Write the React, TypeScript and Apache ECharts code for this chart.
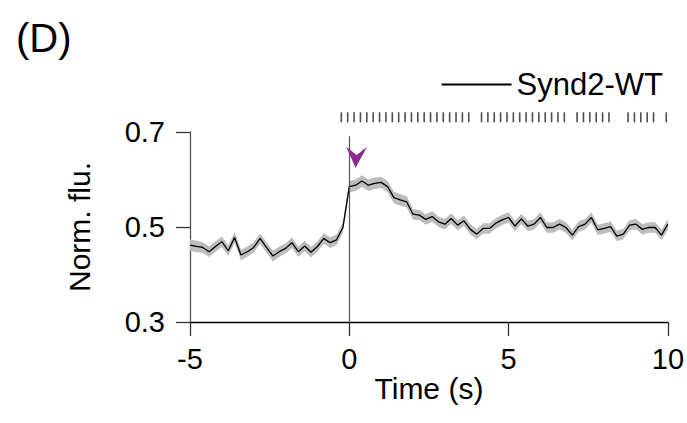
import { useEffect, useRef } from "react";
import * as echarts from "echarts";

// Sampling of the trace (s)
const T_START = -5;
const T_STEP = 0.2;

// Mean normalised fluorescence, one value per frame from -5 s to 10 s
const meanFlu = [
  0.462, 0.459, 0.457, 0.448, 0.459, 0.469, 0.450, 0.478, 0.441, 0.448,
  0.457, 0.476, 0.457, 0.439, 0.448, 0.455, 0.467, 0.448, 0.460, 0.447,
  0.459, 0.476, 0.467, 0.473, 0.499, 0.585, 0.588, 0.597, 0.588, 0.592,
  0.594, 0.585, 0.562, 0.557, 0.553, 0.527, 0.525, 0.516, 0.522, 0.511,
  0.506, 0.518, 0.504, 0.513, 0.495, 0.485, 0.497, 0.497, 0.508, 0.515,
  0.520, 0.502, 0.517, 0.502, 0.506, 0.520, 0.499, 0.499, 0.506, 0.499,
  0.483, 0.501, 0.506, 0.520, 0.494, 0.497, 0.501, 0.481, 0.485, 0.504,
  0.506, 0.495, 0.499, 0.499, 0.483, 0.506,
];

// Standard error of the mean for each frame
const semFlu = [
  0.012, 0.012, 0.011, 0.011, 0.011, 0.011, 0.011, 0.011, 0.011, 0.011,
  0.011, 0.011, 0.011, 0.011, 0.011, 0.011, 0.011, 0.011, 0.011, 0.011,
  0.011, 0.011, 0.011, 0.011, 0.011, 0.012, 0.012, 0.012, 0.012, 0.012,
  0.012, 0.012, 0.012, 0.012, 0.012, 0.011, 0.011, 0.011, 0.011, 0.011,
  0.011, 0.011, 0.011, 0.011, 0.011, 0.011, 0.011, 0.011, 0.011, 0.011,
  0.011, 0.011, 0.011, 0.011, 0.011, 0.011, 0.011, 0.011, 0.011, 0.011,
  0.011, 0.011, 0.011, 0.011, 0.011, 0.011, 0.011, 0.011, 0.011, 0.011,
  0.011, 0.011, 0.011, 0.011, 0.011, 0.011,
];

// Stimulus event times (s), drawn as a raster above the trace
const eventTimes = [
  -0.25, -0.05, 0.15, 0.35, 0.55, 0.75, 0.95, 1.15, 1.35, 1.55, 1.75,
  1.95, 2.15, 2.35, 2.55, 2.75, 2.95, 3.15, 3.35, 3.55, 3.75,
  4.15, 4.35, 4.55, 4.75, 4.95, 5.15, 5.35, 5.55, 5.75, 5.95, 6.15,
  6.35, 6.55, 6.75,
  7.15, 7.35, 7.55, 7.75, 7.95, 8.15,
  8.75, 8.95, 9.15, 9.35, 9.55,
  9.95,
];
const rasterLevel = 0.731;

// Arrowhead marking the response onset
const arrowTime = 0.23;
const arrowLevel = 0.647;

const seriesName = "Synd2-WT";
const panelLabel = "(D)";
const xName = "Time (s)";
const yName = "Norm. flu.";

const FONT = "'Liberation Sans', Arial, Helvetica, sans-serif";

export default function App() {
  const ref = useRef<HTMLDivElement>(null);

  useEffect(() => {
    if (!ref.current) return;
    document.body.style.margin = "0";
    const chart = echarts.init(ref.current, undefined, { renderer: "svg" });

    const times = meanFlu.map((_, i) => +(T_START + i * T_STEP).toFixed(2));
    const meanData = meanFlu.map((v, i) => [times[i], v]);
    const bandData = meanFlu.map((v, i) => [times[i], v - semFlu[i], v + semFlu[i]]);

    const option: any = {
      animation: false,
      textStyle: { fontFamily: FONT, color: "#000" },
      title: {
        text: panelLabel,
        left: 11,
        top: 13,
        textStyle: { fontFamily: FONT, fontSize: 40, fontWeight: "normal", color: "#000" },
      },
      legend: {
        right: 19,
        top: 64,
        itemWidth: 70,
        itemHeight: 2,
        textStyle: { fontFamily: FONT, fontSize: 31, color: "#000" },
        data: [{ name: seriesName, icon: "path://M0,0H70V2H0Z" }],
      },
      grid: { left: 190, right: 18, top: 132, bottom: 101, containLabel: false },
      xAxis: {
        type: "value",
        min: -5,
        max: 10,
        interval: 5,
        name: xName,
        nameLocation: "middle",
        nameGap: 50,
        nameTextStyle: { fontFamily: FONT, fontSize: 30, color: "#000" },
        axisLine: { show: true, onZero: false, lineStyle: { color: "#000", width: 1.3 } },
        axisTick: { show: true, length: 14, lineStyle: { color: "#333", width: 1.3 } },
        axisLabel: { fontFamily: FONT, fontSize: 29, color: "#000", margin: 22 },
        splitLine: { show: false },
      },
      yAxis: {
        type: "value",
        min: 0.3,
        max: 0.7,
        interval: 0.2,
        name: yName,
        nameLocation: "middle",
        nameGap: 96,
        nameTextStyle: { fontFamily: FONT, fontSize: 30, color: "#000" },
        axisLine: { show: true, onZero: false, lineStyle: { color: "#555", width: 1.3 } },
        axisTick: { show: true, length: 14, lineStyle: { color: "#333", width: 1.3 } },
        axisLabel: {
          fontFamily: FONT,
          fontSize: 29,
          color: "#000",
          margin: 25,
          formatter: (v: number) => v.toFixed(1),
        },
        splitLine: { show: false },
      },
      series: [
        {
          // SEM band around the mean trace
          type: "custom",
          name: "sem",
          silent: true,
          z: 1,
          data: bandData,
          renderItem: (params: any, api: any) => {
            if (params.dataIndex !== 0) return null;
            const upper = bandData.map((d) => api.coord([d[0], d[2]]));
            const lower = bandData
              .slice()
              .reverse()
              .map((d) => api.coord([d[0], d[1]]));
            return {
              type: "polygon",
              shape: { points: upper.concat(lower) },
              style: { fill: "#bdbdbd", stroke: "none" },
            };
          },
        },
        {
          type: "line",
          name: seriesName,
          data: meanData,
          showSymbol: false,
          symbol: "none",
          color: "#000",
          lineStyle: { color: "#000", width: 1.3 },
          z: 3,
          markLine: {
            silent: true,
            symbol: "none",
            label: { show: false },
            lineStyle: { color: "#555", width: 1.2, type: "solid" },
            data: [[{ coord: [0, 0.3] }, { coord: [0, 0.691] }]],
          },
        },
        {
          // event raster
          type: "scatter",
          name: "events",
          silent: true,
          clip: false,
          symbol: "rect",
          symbolSize: [1.6, 10],
          itemStyle: { color: "#222" },
          data: eventTimes.map((t) => [t, rasterLevel]),
          z: 4,
        },
        {
          // onset arrowhead
          type: "scatter",
          name: "onset",
          silent: true,
          clip: false,
          symbol: "path://M0,0L10,8L20,0L9,20Z",
          symbolSize: [21, 21],
          itemStyle: { color: "#8E2A8E", opacity: 1 },
          data: [[arrowTime, arrowLevel]],
          z: 5,
        },
      ],
    };

    chart.setOption(option);
    return () => chart.dispose();
  }, []);

  return <div ref={ref} style={{ width: 687, height: 423 }} />;
}
